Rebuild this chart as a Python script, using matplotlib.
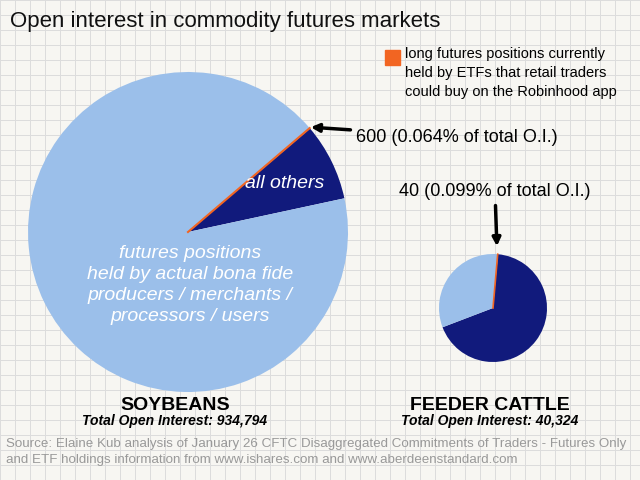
import matplotlib
matplotlib.use("Agg")
import matplotlib.pyplot as plt
from matplotlib import font_manager

names = {f.name for f in font_manager.fontManager.ttflist}
FONT = "Liberation Sans Narrow" if "Liberation Sans Narrow" in names else "Liberation Sans"
plt.rcParams["font.family"] = FONT

LIGHT = "#9bbfea"
NAVY = "#111a7c"
ORANGE = "#f26522"

soy_labels = ["ETF long positions", "all others", "producers / merchants / processors / users"]
soy_values = [600, 73000, 861194]
cattle_values = [40, 27300, 12984]

fig = plt.figure(figsize=(6.4, 4.8), dpi=100)
fig.patch.set_facecolor("#f7f6f2")

# graph paper background
bg = fig.add_axes([0, 0, 1, 1])
bg.set_xlim(0, 640)
bg.set_ylim(480, 0)
bg.axis("off")
for v in range(0, 641, 15):
    bg.axvline(v, color="#dcdcdc", lw=0.7)
for v in range(0, 481, 15):
    bg.axhline(v, color="#dcdcdc", lw=0.7)

# pies drawn in a y-up axes
pa = fig.add_axes([0, 0, 1, 1])
pa.pie(soy_values, colors=[ORANGE, NAVY, LIGHT], center=(188, 480 - 232), radius=160,
       startangle=40.5, counterclock=False, frame=True,
       wedgeprops=dict(linewidth=0))
pa.plot([188, 188 + 160 * 0.7604], [248, 248 + 160 * 0.6494], color=ORANGE, lw=1.5)
pa.pie(cattle_values, colors=[ORANGE, NAVY, LIGHT], center=(493, 480 - 308), radius=54,
       startangle=85, counterclock=False, frame=True,
       wedgeprops=dict(linewidth=0))
pa.plot([493, 497.7], [172, 172 + 53.8], color=ORANGE, lw=1.2)
pa.set_xlim(0, 640)
pa.set_ylim(0, 480)
pa.set_aspect("equal")
pa.axis("off")

# text layer on top
ax = fig.add_axes([0, 0, 1, 1])
ax.set_xlim(0, 640)
ax.set_ylim(480, 0)
ax.axis("off")

ax.text(10, 22, "Open interest in commodity futures markets", fontsize=16, va="center", color="#111")
ax.add_patch(plt.Rectangle((385, 50), 15, 15, color=ORANGE))
ax.text(405, 47, "long futures positions currently\nheld by ETFs that retail traders\ncould buy on the Robinhood app",
        fontsize=10.5, va="top", linespacing=1.45)

ax.annotate("600 (0.064% of total O.I.)", xy=(308, 127), xytext=(356, 137), fontsize=13, va="center",
            arrowprops=dict(arrowstyle="-|>", color="black", lw=2.5, mutation_scale=12))
ax.annotate("40 (0.099% of total O.I.)", xy=(497, 249), xytext=(495, 200), fontsize=13, ha="center", va="bottom",
            arrowprops=dict(arrowstyle="-|>", color="black", lw=2.5, mutation_scale=12))

ax.text(285, 184, "all others", color="white", fontsize=14, style="italic", ha="center", va="center")
ax.text(190, 285, "futures positions\nheld by actual bona fide\nproducers / merchants /\nprocessors / users",
        color="white", fontsize=14, style="italic", ha="center", va="center", linespacing=1.3)

ax.text(175, 405, "SOYBEANS", fontsize=14, ha="center", va="center", weight="bold")
ax.text(175, 421, "Total Open Interest: 934,794", fontsize=10, ha="center", va="center", weight="bold", style="italic")
ax.text(490, 405, "FEEDER CATTLE", fontsize=14, ha="center", va="center", weight="bold")
ax.text(490, 421, "Total Open Interest: 40,324", fontsize=10, ha="center", va="center", weight="bold", style="italic")

ax.text(6, 452, "Source: Elaine Kub analysis of January 26 CFTC Disaggregated Commitments of Traders - Futures Only\n"
        "and ETF holdings information from www.ishares.com and www.aberdeenstandard.com",
        fontsize=9.6, color="#999999", va="center", linespacing=1.35)

fig.savefig("out.png", dpi=100, facecolor=fig.get_facecolor())
